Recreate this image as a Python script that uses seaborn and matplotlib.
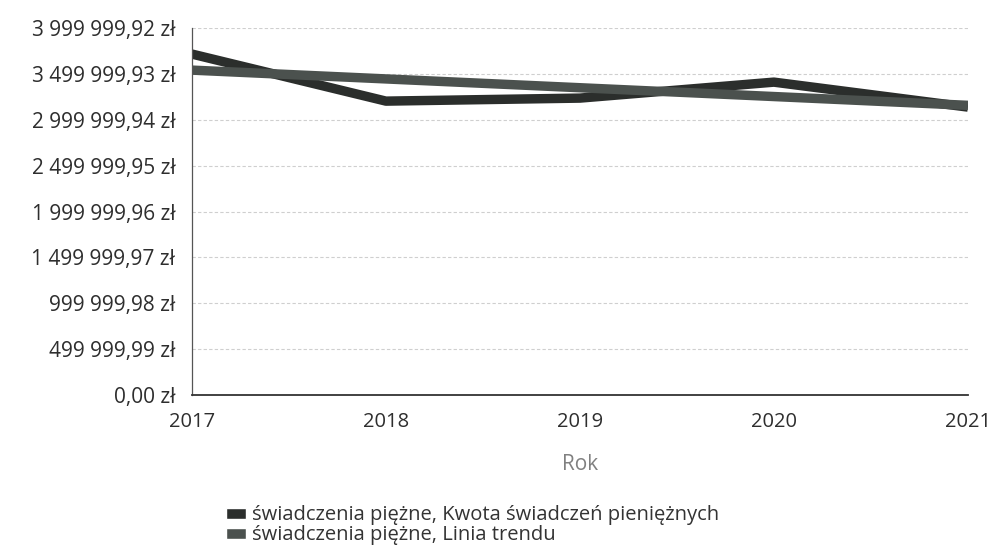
import pandas as pd
import matplotlib
matplotlib.use("Agg")
import matplotlib.pyplot as plt
from matplotlib.ticker import FuncFormatter, FixedLocator
from matplotlib.patches import Patch
import seaborn as sns

# dane
lata = [2017, 2018, 2019, 2020, 2021]
kwota = [3717000, 3204000, 3237000, 3411000, 3139000]
trend = [3542000, 3446000, 3350000, 3254000, 3158000]
seria_kwota = "świadczenia piężne, Kwota świadczeń pieniężnych"
seria_trend = "świadczenia piężne, Linia trendu"
y_ticki = [0.00, 499999.99, 999999.98, 1499999.97, 1999999.96,
           2499999.95, 2999999.94, 3499999.93, 3999999.92]

df = pd.DataFrame({
    "Rok": lata * 2,
    "wartosc": kwota + trend,
    "seria": [seria_kwota] * len(lata) + [seria_trend] * len(lata),
})
kolory = {seria_kwota: "#2b2e2c", seria_trend: "#4b514e"}

sns.set_style("white")
plt.rcParams["font.family"] = ["Open Sans", "DejaVu Sans"]

fig = plt.figure(figsize=(9.91, 5.51), dpi=100)
ax = fig.add_axes([0.1937, 0.283, 0.783, 0.666])

sns.lineplot(data=df, x="Rok", y="wartosc", hue="seria", palette=kolory,
             linewidth=6.8, ax=ax, legend=False, solid_capstyle="butt")


def zl(v, pos):
    s = f"{v:,.2f}".replace(",", " ").replace(".", ",")
    return s + " zł"


ax.yaxis.set_major_locator(FixedLocator(y_ticki))
ax.yaxis.set_major_formatter(FuncFormatter(zl))
ax.set_ylim(0, y_ticki[-1])
ax.set_xlim(lata[0], lata[-1])
ax.set_xticks(lata)
ax.set_xticklabels([str(r) for r in lata])
ax.grid(axis="y", color="#cfcfcf", linestyle=(0, (3, 2)), linewidth=0.8)
ax.grid(axis="x", visible=False)

for s in ["top", "right"]:
    ax.spines[s].set_visible(False)
ax.spines["left"].set_color("#555555")
ax.spines["bottom"].set_color("#333333")
ax.spines["left"].set_linewidth(0.9)
ax.spines["bottom"].set_linewidth(1.3)

ax.tick_params(axis="y", labelsize=15, labelcolor="#2e2e2e", length=0, pad=12)
ax.tick_params(axis="x", labelsize=14.5, labelcolor="#2e2e2e", length=0, pad=12)
ax.set_ylabel("")
ax.set_xlabel("Rok", fontsize=15, color="#808080", labelpad=16)

uchwyty = [Patch(facecolor=kolory[seria_kwota], label=seria_kwota),
           Patch(facecolor=kolory[seria_trend], label=seria_trend)]
fig.legend(handles=uchwyty, loc="upper left", bbox_to_anchor=(0.228, 0.083),
           frameon=False, fontsize=14.5, handlelength=1.0, handleheight=0.45,
           handletextpad=0.3, labelspacing=0.0, borderaxespad=0,
           borderpad=0, labelcolor="#333333")

fig.savefig("out.png", dpi=100)
